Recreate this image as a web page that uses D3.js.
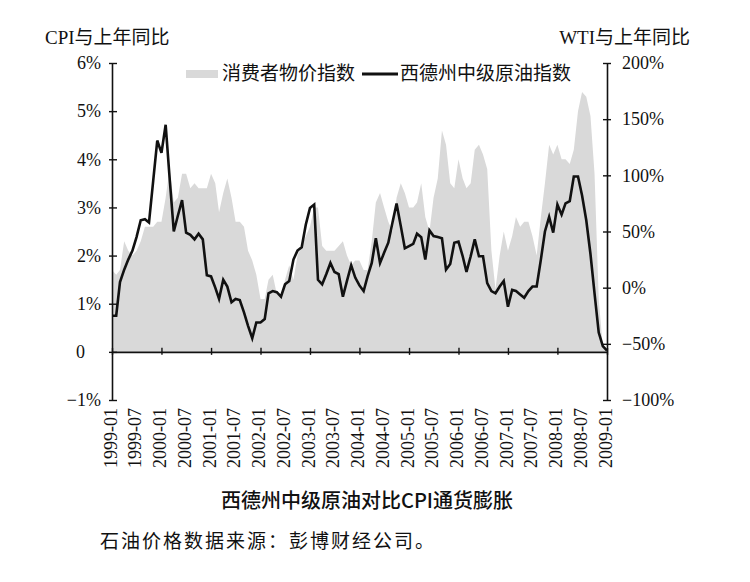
<!DOCTYPE html>
<html>
<head>
<meta charset="utf-8">
<script src="https://cdn.jsdelivr.net/npm/d3@7"></script>
<style>
  body { margin: 0; background: #fff; }
  svg text { font-family: "Liberation Serif", "Noto Sans CJK SC", serif; fill: #111; }
</style>
</head>
<body>
<div id="chart"></div>
<script>
// monthly series, 1999-01 .. 2009-01
const startMonth = "1999-01";
const monthCount = 121;

// CPI, year-over-year %
const cpiValues = [
  1.7, 1.6, 1.7, 2.3, 2.1, 2.0, 2.1, 2.3, 2.6, 2.6, 2.6, 2.7,
  2.7, 3.2, 3.8, 3.1, 3.2, 3.7, 3.7, 3.4, 3.5, 3.4, 3.4, 3.4,
  3.7, 3.5, 2.9, 3.3, 3.6, 3.2, 2.7, 2.7, 2.6, 2.1, 1.9, 1.6,
  1.1, 1.1, 1.5, 1.6, 1.2, 1.1, 1.5, 1.8, 1.5, 2.0, 2.2, 2.4,
  2.6, 3.0, 3.0, 2.2, 2.1, 2.1, 2.1, 2.2, 2.3, 2.0, 1.8, 1.9,
  1.9, 1.7, 1.7, 2.3, 3.1, 3.3, 3.0, 2.7, 2.5, 3.2, 3.5, 3.3,
  3.0, 3.0, 3.1, 3.5, 2.8, 2.5, 3.2, 3.6, 4.6, 4.3, 3.5, 3.4,
  4.0, 3.6, 3.4, 3.5, 4.2, 4.3, 4.1, 3.8, 2.1, 1.3, 2.0, 2.5,
  2.1, 2.4, 2.8, 2.6, 2.7, 2.7, 2.4, 2.0, 2.8, 3.5, 4.3, 4.1,
  4.3, 4.0, 4.0, 3.9, 4.2, 5.0, 5.4, 5.3, 4.9, 3.7, 1.1, 0.1,
  0.0
];

// WTI crude, year-over-year %
const wtiValues = [
  -25, -25, 5, 16, 25, 33, 45, 60, 61, 58, 95, 131,
  120, 145, 98, 50, 64, 78, 49, 47, 43, 48, 43, 11,
  10, 0, -10, 7, 1, -13, -10, -11, -22, -34, -45, -31,
  -31, -28, -5, -3, -4, -8, 3, 6, 25, 33, 36, 56,
  71, 74, 7, 3, 12, 22, 14, 12, -8, 6, 20, 9,
  2, -3, 10, 22, 44, 22, 31, 40, 58, 75, 55, 35,
  37, 39, 48, 45, 25, 51, 46, 45, 44, 16, 21, 40,
  41, 28, 14, 28, 43, 28, 28, 4, -3, -5, 1, 6,
  -17, -2, -3, -6, -9, -3, 1, 1, 25, 50, 63, 49,
  74, 65, 75, 77, 99, 99, 82, 60, 30, -5, -40, -52,
  -56
];

const leftTicks = [-1, 0, 1, 2, 3, 4, 5, 6];
const rightTicks = [-100, -50, 0, 50, 100, 150, 200];

const leftTitle = "CPI与上年同比";
const rightTitle = "WTI与上年同比";
const legendLabels = ["消费者物价指数", "西德州中级原油指数"];
const caption = "西德州中级原油对比CPI通货膨胀";
const sourceNote = "石油价格数据来源：彭博财经公司。";

(function () {

  const W = 750, H = 582;
  const plot = { left: 112, right: 607, top: 63, bottom: 400 };

  const parseMonth = d3.timeParse("%Y-%m");
  const t0 = parseMonth(startMonth);
  const months = d3.range(monthCount).map(i => d3.timeMonth.offset(t0, i));
  const data = months.map((d, i) => ({ date: d, cpi: cpiValues[i], wti: wtiValues[i] }));

  const svg = d3.select("#chart").append("svg")
    .attr("width", W)
    .attr("height", H);

  const x = d3.scaleTime()
    .domain([months[0], months[monthCount - 1]])
    .range([plot.left, plot.right]);

  const yL = d3.scaleLinear().domain([-1, 6]).range([plot.bottom, plot.top]);
  const yR = d3.scaleLinear().domain([-100, 200]).range([plot.bottom, plot.top]);

  // cpi area
  const area = d3.area()
    .x(d => x(d.date))
    .y0(yL(0))
    .y1(d => yL(d.cpi));

  svg.append("path")
    .datum(data)
    .attr("d", area)
    .attr("fill", "#d9d9d9");

  // wti line
  const line = d3.line()
    .x(d => x(d.date))
    .y(d => yR(d.wti));

  svg.append("path")
    .datum(data)
    .attr("d", line)
    .attr("fill", "none")
    .attr("stroke", "#111")
    .attr("stroke-width", 2.6)
    .attr("stroke-linejoin", "miter");

  // left axis
  const fmtLeft = d => d === 0 ? "0" : (d < 0 ? "\u2212" + Math.abs(d) : d) + "%";
  const gL = svg.append("g")
    .attr("transform", `translate(${plot.left},0)`)
    .call(d3.axisLeft(yL).tickValues(leftTicks).tickFormat(fmtLeft).tickSizeOuter(0));
  gL.select(".domain").attr("stroke", "#111").attr("stroke-width", 1.6);
  gL.selectAll(".tick line").attr("x1", -3).attr("x2", 5).attr("stroke", "#111").attr("stroke-width", 1.4);
  gL.selectAll(".tick text")
    .attr("x", d => d === 0 ? -27 : -11)
    .style("font-size", "18px");

  // right axis
  const fmtRight = d => (d < 0 ? "\u2212" + Math.abs(d) : d) + "%";
  const gR = svg.append("g")
    .attr("transform", `translate(${plot.right},0)`)
    .call(d3.axisRight(yR).tickValues(rightTicks).tickFormat(fmtRight).tickSizeOuter(0));
  gR.select(".domain").attr("stroke", "#111").attr("stroke-width", 1.6);
  gR.selectAll(".tick line").attr("x1", -4).attr("x2", 4).attr("stroke", "#111").attr("stroke-width", 1.4);
  gR.selectAll(".tick text")
    .attr("x", 15)
    .style("font-size", "18px");

  // x axis: yearly ticks on the zero line
  const years = d3.timeYear.range(months[0], d3.timeMonth.offset(months[monthCount - 1], 1));
  const gX = svg.append("g")
    .attr("transform", `translate(0,${yL(0)})`)
    .call(d3.axisBottom(x).tickValues(years).tickFormat("").tickSizeOuter(0));
  gX.select(".domain").attr("stroke", "#111").attr("stroke-width", 1.6);
  gX.selectAll(".tick line").attr("y1", -4).attr("y2", 3).attr("stroke", "#111").attr("stroke-width", 1.4);

  // half-year labels under the plot
  const halfYears = months.filter((d, i) => i % 6 === 0);
  const gXL = svg.append("g")
    .attr("transform", `translate(0,${yL(0)})`)
    .call(d3.axisBottom(x).tickValues(halfYears).tickFormat(d3.timeFormat("%Y-%m")).tickSize(0));
  gXL.select(".domain").remove();
  gXL.selectAll(".tick text")
    .attr("transform", "rotate(-90)")
    .attr("text-anchor", "end")
    .attr("x", -(408 - yL(0)))
    .attr("y", -2)
    .attr("dy", "0.35em")
    .style("font-size", "18px");

  // axis titles
  svg.append("text")
    .attr("x", 45).attr("y", 44)
    .style("font-size", "19px")
    .text(leftTitle);

  svg.append("text")
    .attr("x", 690).attr("y", 44)
    .attr("text-anchor", "end")
    .style("font-size", "19px")
    .text(rightTitle);

  // legend
  const lg = svg.append("g");
  lg.append("rect")
    .attr("x", 186).attr("y", 70).attr("width", 32).attr("height", 8)
    .attr("fill", "#d9d9d9");
  lg.append("text")
    .attr("x", 222).attr("y", 80)
    .style("font-size", "19px")
    .text(legendLabels[0]);
  lg.append("line")
    .attr("x1", 362).attr("x2", 398).attr("y1", 74).attr("y2", 74)
    .attr("stroke", "#111").attr("stroke-width", 3);
  lg.append("text")
    .attr("x", 400).attr("y", 80)
    .style("font-size", "19px")
    .text(legendLabels[1]);

  // caption + source
  svg.append("text")
    .attr("x", 367).attr("y", 508)
    .attr("text-anchor", "middle")
    .style("font-family", "'Noto Sans CJK SC', sans-serif")
    .style("font-size", "20px")
    .style("font-weight", "500")
    .text(caption);

  svg.append("text")
    .attr("x", 100).attr("y", 548)
    .style("font-family", "'Noto Sans CJK SC', sans-serif")
    .style("font-size", "19px")
    .style("letter-spacing", "2px")
    .text(sourceNote);

})();
</script>
</body>
</html>
